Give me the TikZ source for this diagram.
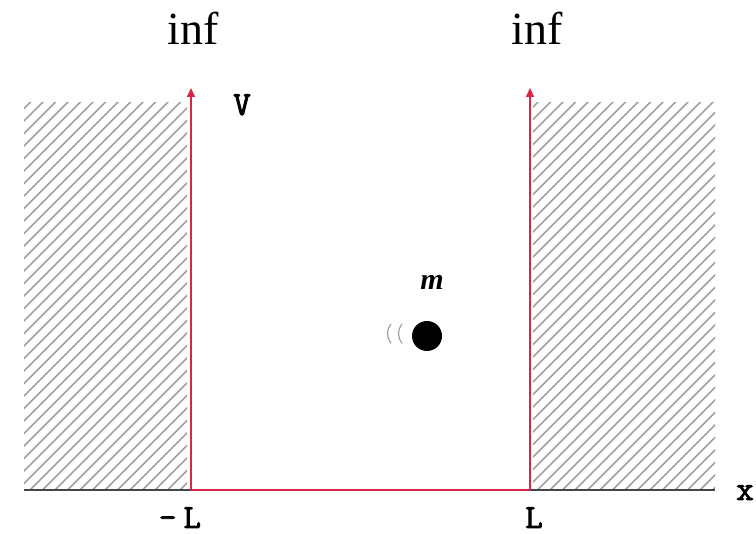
\documentclass[tikz,border=0pt]{standalone}
\usepackage{fontspec}
\setmainfont{Liberation Serif}
\newfontfamily\ttb{Latin Modern Mono}[FakeBold=2.5]
\usetikzlibrary{arrows.meta}
\definecolor{wallred}{RGB}{214,40,70}
\definecolor{hatchgray}{RGB}{160,160,160}
\definecolor{axisgray}{RGB}{70,70,70}
\tikzset{
  hatchline/.style={hatchgray, line width=1.5pt},
  wall/.style={wallred, line width=1.6pt, -{Triangle[length=9pt,width=8pt]}},
  inflabel/.style={font=\fontsize{46}{46}\selectfont, inner sep=0pt},
  ttlabel/.style={font=\fontsize{34}{34}\selectfont\ttb, inner sep=0pt},
}
\begin{document}
\begin{tikzpicture}[x=1pt,y=1pt]
\useasboundingbox (0,0) rectangle (756,534);
% hatched regions
\begin{scope}
  \clip (24,44) rectangle (187,431);
  \foreach \i in {-420,-407.5,...,200} \draw[hatchline] (\i,44) -- ++(400,400);
\end{scope}
\begin{scope}
  \clip (533,44) rectangle (715,431);
  \foreach \i in {100,112.5,...,720} \draw[hatchline] (\i,44) -- ++(400,400);
\end{scope}
% coordinates
\coordinate (axL) at (24,44);
\coordinate (axR) at (715,44);
\coordinate (wl) at (191,44);
\coordinate (wr) at (530,44);
\coordinate (wlt) at (191,446);
\coordinate (wrt) at (530,446);
% axis
\draw[axisgray, line width=2pt] (axL) -- (wl);
\draw[axisgray, line width=2pt] (wr) -- (axR);
\draw[wallred, line width=2pt] (wl) -- (wr);
% walls
\draw[wall] (wl) -- (wlt);
\draw[wall] (wr) -- (wrt);
% labels
\node[inflabel] (inf1) at (193,506) {inf};
\node[inflabel] (inf2) at (537,506) {inf};
\node[ttlabel, anchor=base] (V) at (242,419) {V};
\node[ttlabel, anchor=base] (x) at (745,34) {x};
\node[ttlabel, anchor=base] (mL) at (180,6) {–\hspace{7pt}L};
\node[ttlabel, anchor=base] (L) at (534,6) {L};
\node[font=\fontsize{30}{30}\selectfont\bfseries\itshape, inner sep=0pt] (m) at (432,252) {m};
% ball
\node[circle, fill=black, minimum size=30pt, inner sep=0pt] (ball) at (427,198) {};
\draw[hatchgray, line width=1.2pt] (391,210) arc[start angle=140, end angle=220, radius=15pt];
\draw[hatchgray, line width=1.2pt] (402,210) arc[start angle=140, end angle=220, radius=15pt];
\end{tikzpicture}
\end{document}
